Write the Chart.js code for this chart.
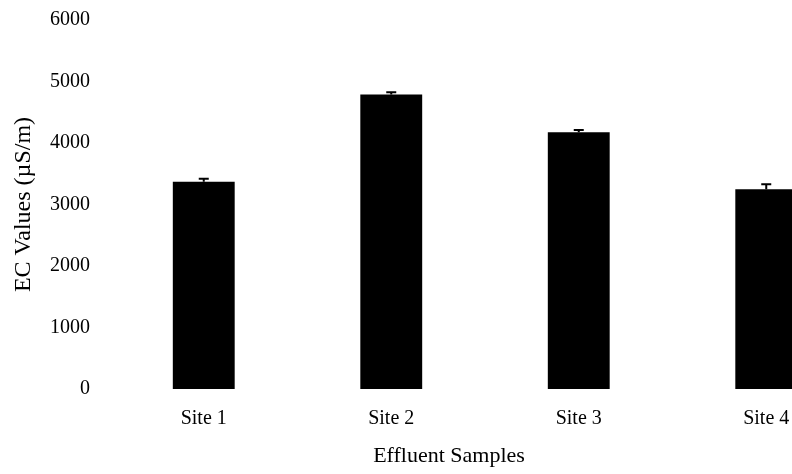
<!DOCTYPE html>
<html>
<head>
<meta charset="utf-8">
<script src="https://cdn.jsdelivr.net/npm/chart.js@4.4.0/dist/chart.umd.min.js"></script>
<style>
  html, body { margin: 0; padding: 0; background: #fff; overflow: hidden; }
  #wrap { width: 792px; height: 474px; overflow: hidden; }
</style>
</head>
<body>
<div id="wrap">
  <canvas id="graficoCanvas" width="902" height="474"></canvas>
</div>
<script>
const sites = ["Site 1", "Site 2", "Site 3", "Site 4"];
const ecValues = [3370, 4790, 4175, 3250];
const ecErrors = [50, 35, 35, 80];
const yTicks = [0, 1000, 2000, 3000, 4000, 5000, 6000];

const serif = "'Liberation Serif', 'Times New Roman', serif";

// small T-shaped error bars on top of each bar
const errorBars = {
    id: "errorBars",
    afterDatasetsDraw(chart) {
        const ctx = chart.ctx;
        const yScale = chart.scales.y;
        const meta = chart.getDatasetMeta(0);
        ctx.save();
        ctx.strokeStyle = "#000";
        ctx.lineWidth = 2;
        meta.data.forEach((bar, i) => {
            const top = yScale.getPixelForValue(ecValues[i]);
            const hi = yScale.getPixelForValue(ecValues[i] + ecErrors[i]);
            ctx.beginPath();
            ctx.moveTo(bar.x, top);
            ctx.lineTo(bar.x, hi);
            ctx.moveTo(bar.x - 5, hi);
            ctx.lineTo(bar.x + 5, hi);
            ctx.stroke();
        });
        ctx.restore();
    }
};

// x title sits a bit left of the plot centre in the original
const xTitle = {
    id: "xTitle",
    afterDraw(chart) {
        const ctx = chart.ctx;
        ctx.save();
        ctx.fillStyle = "#000";
        ctx.font = "22px " + serif;
        ctx.textAlign = "center";
        ctx.textBaseline = "middle";
        ctx.fillText("Effluent Samples", 449, 456);
        ctx.restore();
    }
};

const ctx = document.getElementById("graficoCanvas").getContext("2d");
new Chart(ctx, {
    type: "bar",
    data: {
        labels: sites,
        datasets: [{
            label: "EC",
            data: ecValues,
            backgroundColor: "#000",
            borderWidth: 0,
            categoryPercentage: 1,
            barPercentage: 0.33
        }]
    },
    options: {
        responsive: false,
        animation: false,
        layout: { padding: { top: 0, right: 42, left: 0, bottom: 0 } },
        plugins: {
            legend: { display: false },
            tooltip: { enabled: false }
        },
        scales: {
            x: {
                grid: { display: false, drawTicks: false },
                border: { display: false },
                ticks: {
                    color: "#000",
                    padding: 18,
                    font: { family: serif, size: 20 }
                },
                afterFit(scale) { scale.height = 85; }
            },
            y: {
                min: 0,
                max: 6000,
                grid: { display: false, drawTicks: false },
                border: { display: false },
                afterBuildTicks(scale) {
                    scale.ticks = yTicks.map(v => ({ value: v }));
                },
                ticks: {
                    color: "#000",
                    padding: 20,
                    font: { family: serif, size: 20 },
                    callback: v => String(v)
                },
                title: {
                    display: true,
                    text: "EC Values (µS/m)",
                    color: "#000",
                    padding: { top: 9, bottom: 0 },
                    font: { family: serif, size: 24 }
                },
                afterFit(scale) {
                    scale.width = 110;
                    scale.paddingTop = 20;
                    scale.paddingBottom = 0;
                }
            }
        }
    },
    plugins: [errorBars, xTitle]
});
</script>
</body>
</html>
